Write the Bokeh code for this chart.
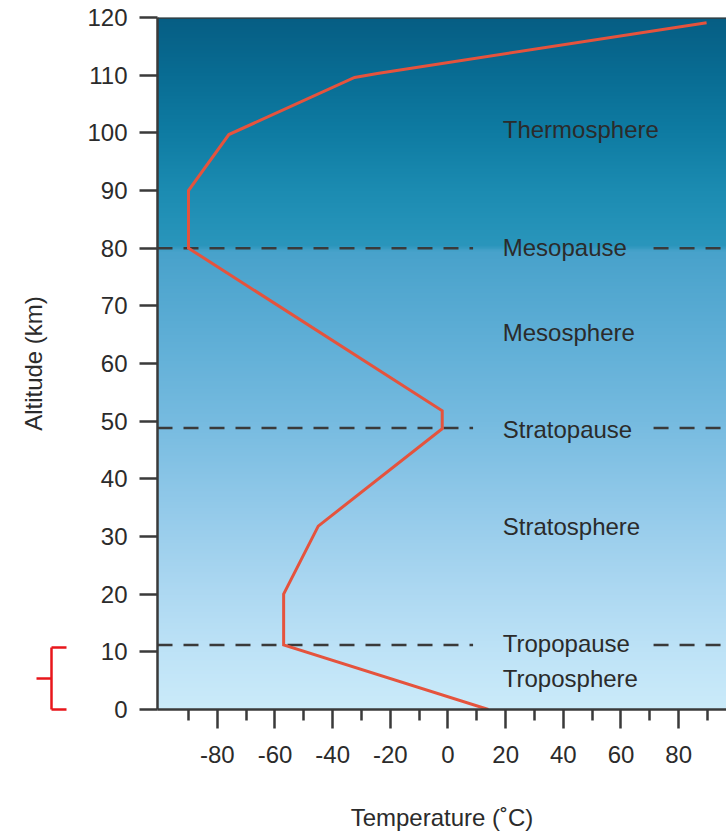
import numpy as np
from bokeh.plotting import figure
from bokeh.models import Range1d, FixedTicker, Span, LinearAxis
from bokeh.core.properties import value
from bokeh.embed import file_html
from bokeh.resources import INLINE

# ---------------- data ----------------
temperature_c = [14, -57, -57, -45, -2, -2, -90, -90, -76, -32.4, -24.5, 89.7]
altitude_km = [0, 11.2, 20, 31.8, 48.7, 51.8, 80, 90, 99.7, 109.6, 110.3, 119.1]

boundary_names = ["Tropopause", "Stratopause", "Mesopause"]
boundary_alts = [11.2, 48.8, 80]

layer_names = ["Thermosphere", "Mesopause", "Mesosphere", "Stratopause",
               "Stratosphere", "Tropopause", "Troposphere"]
layer_label_alts = [100.5, 80.1, 65.3, 48.6, 31.7, 11.5, 5.4]

x_major_ticks = [-80, -60, -40, -20, 0, 20, 40, 60, 80]
x_tick_labels = ["-80", "-60", "-40", "-20", "0", "20", "40", "60", "80"]
x_minor_ticks = [-90, -70, -50, -30, -10, 10, 30, 50, 70, 90]
y_major_ticks = [0, 10, 20, 30, 40, 50, 60, 70, 80, 90, 100, 110, 120]

troposphere_brace = (0, 10.7)   # altitude span marked by the red brace

# ---------------- style ----------------
FONT = "Liberation Sans"
FS = "24px"
TXT = "#2b2b2b"
AX = "#3a3a3a"
RED = "#e8161b"
X0, X1 = -100.75, 96.6
Y0, Y1 = 0, 120

p = figure(width=726, height=833, output_backend="svg", toolbar_location=None,
           x_range=Range1d(X0, X1), y_range=Range1d(Y0, Y1),
           min_border_left=157, min_border_right=0, min_border_top=17,
           min_border_bottom=120)
p.outline_line_color = None
p.xgrid.visible = False
p.ygrid.visible = False
p.background_fill_color = "white"
p.border_fill_color = "white"

# background gradient (vertical)
stops = [
    (0, (203, 235, 250)),
    (10, (190, 227, 247)),
    (20, (174, 217, 242)),
    (35, (147, 202, 234)),
    (50, (118, 187, 224)),
    (65, (94, 174, 214)),
    (79.5, (72, 162, 203)),
    (80.5, (42, 150, 188)),
    (90, (28, 140, 178)),
    (100, (15, 124, 163)),
    (110, (9, 109, 148)),
    (120, (6, 94, 132)),
]
N = 480
alts = np.linspace(Y0, Y1, N)
sa = [s[0] for s in stops]
rgb = np.stack([np.interp(alts, sa, [s[1][k] for s in stops]) for k in range(3)], axis=1)
img = np.zeros((N, 1), dtype=np.uint32)
view = img.view(dtype=np.uint8).reshape((N, 1, 4))
view[:, 0, 0] = rgb[:, 0].astype(np.uint8)
view[:, 0, 1] = rgb[:, 1].astype(np.uint8)
view[:, 0, 2] = rgb[:, 2].astype(np.uint8)
view[:, 0, 3] = 255
p.image_rgba(image=[img], x=X0, y=Y0, dw=X1 - X0, dh=Y1 - Y0)

# dashed boundary lines with a gap for the labels
GAP_L, GAP_R = 8.7, 71.3
p.segment(x0=[X0] * 3, x1=[GAP_L] * 3, y0=boundary_alts, y1=boundary_alts,
          line_color=AX, line_width=2.5, line_dash="15 11")
p.segment(x0=[GAP_R] * 3, x1=[X1] * 3, y0=boundary_alts, y1=boundary_alts,
          line_color=AX, line_width=2.5, line_dash="15 11")

# temperature profile
p.line(temperature_c, altitude_km, line_color="#e5533d", line_width=3, line_join="miter")

# layer names
p.text(x=[19] * len(layer_names), y=layer_label_alts, text=layer_names,
       text_font=value(FONT), text_font_size=FS, text_color=TXT,
       text_align="left", text_baseline="middle")

# top border
p.add_layout(Span(location=Y1, dimension="width", line_color=AX, line_width=2.5))

# axes
xa = p.xaxis[0]
xa.ticker = FixedTicker(ticks=x_major_ticks, minor_ticks=x_minor_ticks)
xa.major_label_overrides = dict(zip(x_major_ticks, x_tick_labels))
xa.axis_label = "Temperature (˚C)"
ya = p.yaxis[0]
ya.ticker = FixedTicker(ticks=y_major_ticks)
for ax in (xa, ya):
    ax.axis_line_color = AX
    ax.axis_line_width = 2.5
    ax.major_tick_line_color = AX
    ax.major_tick_line_width = 2.5
    ax.major_tick_in = 0
    ax.major_label_text_font = FONT
    ax.major_label_text_font_size = FS
    ax.major_label_text_color = TXT
    ax.axis_label_text_font = FONT
    ax.axis_label_text_font_size = FS
    ax.axis_label_text_font_style = "normal"
    ax.axis_label_text_color = TXT
xa.major_tick_out = 19
xa.minor_tick_out = 11
xa.minor_tick_in = 0
xa.minor_tick_line_color = AX
xa.minor_tick_line_width = 2.5
xa.major_label_standoff = 17
xa.axis_label_standoff = 38
ya.major_tick_out = 18
ya.minor_tick_line_color = None
ya.major_label_standoff = 12


def hide_labels(ax):
    ax.major_label_text_alpha = 0
    ax.major_label_text_color = None
    ax.major_label_text_font_size = "1px"
    ax.major_label_standoff = 0


# spacer axis (white on white): leaves room between the tick labels and the brace
spacer = LinearAxis(ticker=FixedTicker(ticks=[65], minor_ticks=[]))
spacer.axis_line_color = None
spacer.major_tick_line_color = "white"
spacer.major_tick_line_width = 1
spacer.major_tick_in = 0
spacer.major_tick_out = 33
spacer.minor_tick_line_color = None
hide_labels(spacer)
p.add_layout(spacer, "left")

# red brace marking the troposphere, drawn as a bounded axis
b0, b1 = troposphere_brace
brace = LinearAxis(ticker=FixedTicker(ticks=[b0, b1], minor_ticks=[(b0 + b1) / 2]),
                   bounds=(b0, b1))
brace.axis_line_color = RED
brace.axis_line_width = 2.5
brace.major_tick_line_color = RED
brace.major_tick_line_width = 2.5
brace.major_tick_in = 15
brace.major_tick_out = 0
brace.minor_tick_line_color = RED
brace.minor_tick_line_width = 2.5
brace.minor_tick_in = 0
brace.minor_tick_out = 15
hide_labels(brace)
p.add_layout(brace, "left")

# outer axis carrying only the y title
title_ax = LinearAxis(ticker=FixedTicker(ticks=[]), axis_label="Altitude (km)")
title_ax.axis_line_color = None
title_ax.major_tick_line_color = None
title_ax.minor_tick_line_color = None
title_ax.major_tick_out = 0
title_ax.major_tick_in = 0
title_ax.minor_tick_out = 0
title_ax.minor_tick_in = 0
hide_labels(title_ax)
title_ax.axis_label_text_font = FONT
title_ax.axis_label_text_font_size = FS
title_ax.axis_label_text_font_style = "normal"
title_ax.axis_label_text_color = TXT
title_ax.axis_label_standoff = -10
p.add_layout(title_ax, "left")

open("out.html", "w").write(file_html(p, INLINE))
